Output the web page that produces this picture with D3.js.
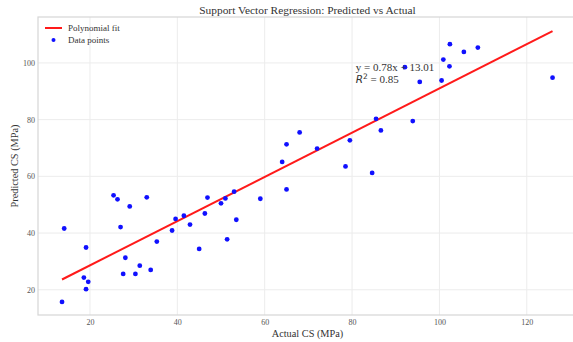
<!DOCTYPE html>
<html>
<head>
<meta charset="utf-8">
<script src="https://cdn.jsdelivr.net/npm/d3@7"></script>
<style>
  body { margin: 0; background: #fff; overflow: hidden; }
  svg { display: block; font-family: "Liberation Serif", "DejaVu Serif", serif; }
</style>
</head>
<body>
<div id="chart"></div>
<script>
// actual vs predicted compressive strength (MPa)
const actualCS = [14.1, 25.4, 26.3, 29.1, 33.0, 27.0, 35.3, 19.1, 28.1, 31.4,
  33.9, 27.6, 30.4, 18.6, 19.6, 19.1, 13.6, 64.0, 65.0, 46.9,
  53.0, 51.0, 50.0, 59.0, 46.3, 39.6, 41.5, 42.9, 53.5, 38.8,
  51.4, 45.0, 92.1, 95.5, 85.5, 93.9, 86.6, 68.0, 65.0, 79.5,
  72.0, 78.5, 84.6, 102.4, 105.6, 108.8, 100.9, 102.3, 100.5, 125.9];
const predictedCS = [41.6, 53.3, 51.9, 49.4, 52.6, 42.1, 37.0, 34.9, 31.3, 28.5,
  27.0, 25.6, 25.6, 24.3, 22.8, 20.2, 15.7, 65.1, 55.4, 52.5,
  54.6, 52.2, 50.5, 52.1, 46.9, 45.0, 46.1, 43.0, 44.7, 40.9,
  37.8, 34.4, 98.5, 93.3, 80.3, 79.5, 76.2, 75.5, 71.3, 72.7,
  69.8, 63.5, 61.2, 106.6, 103.9, 105.4, 101.2, 98.8, 93.8, 94.8];
const fitCoef = [0.78, 13.01];   // slope, intercept
const rSquared = 0.85;
const xTicks = [20, 40, 60, 80, 100, 120];
const yTicks = [20, 40, 60, 80, 100];
const legendLabels = ['Polynomial fit', 'Data points'];

const width = 573, height = 342;
// the axes run a few px past the right edge of the picture (cropped)
const margin = {left: 38, right: -4, top: 17, bottom: 27};
const innerW = width - margin.left - margin.right;
const innerH = height - margin.top - margin.bottom;
const midX = margin.left + innerW / 2;

const svg = d3.select('#chart').append('svg').attr('width', width).attr('height', height);
const g = svg.append('g').attr('transform', 'translate(' + margin.left + ',' + margin.top + ')');

const x = d3.scaleLinear().domain([8.1, 131.5]).range([0, innerW]);
const y = d3.scaleLinear().domain([11.1, 116.2]).range([innerH, 0]);

// grid
g.append('g').selectAll('line').data(xTicks).enter().append('line')
  .attr('x1', d => x(d)).attr('x2', d => x(d)).attr('y1', 0).attr('y2', innerH)
  .style('stroke', '#ececec').style('stroke-width', 1);
g.append('g').selectAll('line').data(yTicks).enter().append('line')
  .attr('y1', d => y(d)).attr('y2', d => y(d)).attr('x1', 0).attr('x2', innerW)
  .style('stroke', '#ececec').style('stroke-width', 1);

// axes (tick labels only)
const xAxis = d3.axisBottom(x).tickValues(xTicks).tickSize(0).tickPadding(4);
const xAxisBlock = g.append('g').attr('transform', 'translate(0,' + innerH + ')').call(xAxis);
const yAxis = d3.axisLeft(y).tickValues(yTicks).tickSize(0).tickPadding(3);
const yAxisBlock = g.append('g').call(yAxis);
[xAxisBlock, yAxisBlock].forEach(a => {
  a.select('.domain').remove();
  a.selectAll('text').style('font-family', '"Liberation Serif", serif').style('font-size', '8px').style('fill', '#555');
});

// frame
g.append('rect').attr('width', innerW).attr('height', innerH)
  .style('fill', 'none').style('stroke', '#d6d6d6').style('stroke-width', 1.2);

// fit line
const xExt = d3.extent(actualCS);
const line = d3.line().x(d => x(d)).y(d => y(fitCoef[0] * d + fitCoef[1]));
g.append('path').datum(xExt).attr('d', line)
  .style('fill', 'none').style('stroke', '#ff1a1a').style('stroke-width', 2);

// points
g.append('g').selectAll('circle').data(actualCS).enter().append('circle')
  .attr('cx', d => x(d)).attr('cy', (d, i) => y(predictedCS[i])).attr('r', 2.4)
  .style('fill', '#1010ff');

// equation annotation
const ann = g.append('g').style('font-size', '11px').style('fill', '#333');
ann.append('text').attr('x', x(80.85)).attr('y', y(97.3))
  .text('y = ' + fitCoef[0] + 'x + ' + fitCoef[1].toFixed(2));
const r2 = ann.append('text').attr('x', x(80.85)).attr('y', y(92.9));
r2.append('tspan').style('font-family', '"DejaVu Sans", sans-serif').style('font-style', 'italic').style('font-size', '10.5px').text('R');
r2.append('tspan').attr('dy', -4).style('font-family', '"DejaVu Sans", sans-serif').style('font-size', '7.5px').text('2');
r2.append('tspan').attr('dy', 4).text(' = ' + rSquared);

// legend
const legend = g.append('g').attr('transform', 'translate(7,11)');
legend.append('line').attr('x1', 0).attr('x2', 17).attr('y1', 0).attr('y2', 0)
  .style('stroke', '#ff1a1a').style('stroke-width', 2);
legend.append('circle').attr('cx', 8.5).attr('cy', 12).attr('r', 2).style('fill', '#1010ff');
legend.selectAll('text').data(legendLabels).enter().append('text')
  .attr('x', 23).attr('y', (d, i) => i * 12 + 3)
  .style('font-size', '9px').style('fill', '#333').text(d => d);

// title and axis labels
svg.append('text').attr('x', midX).attr('y', 13.5).attr('text-anchor', 'middle')
  .style('font-size', '11.4px').style('fill', '#333').text('Support Vector Regression: Predicted vs Actual');
svg.append('text').attr('x', midX).attr('y', 337).attr('text-anchor', 'middle')
  .style('font-size', '10.3px').style('fill', '#333').text('Actual CS (MPa)');
svg.append('text').attr('transform', 'translate(17.5,' + (margin.top + innerH / 2) + ') rotate(-90)')
  .attr('text-anchor', 'middle').style('font-size', '10.3px').style('fill', '#333').text('Predicted CS (MPa)');
</script>
</body>
</html>
